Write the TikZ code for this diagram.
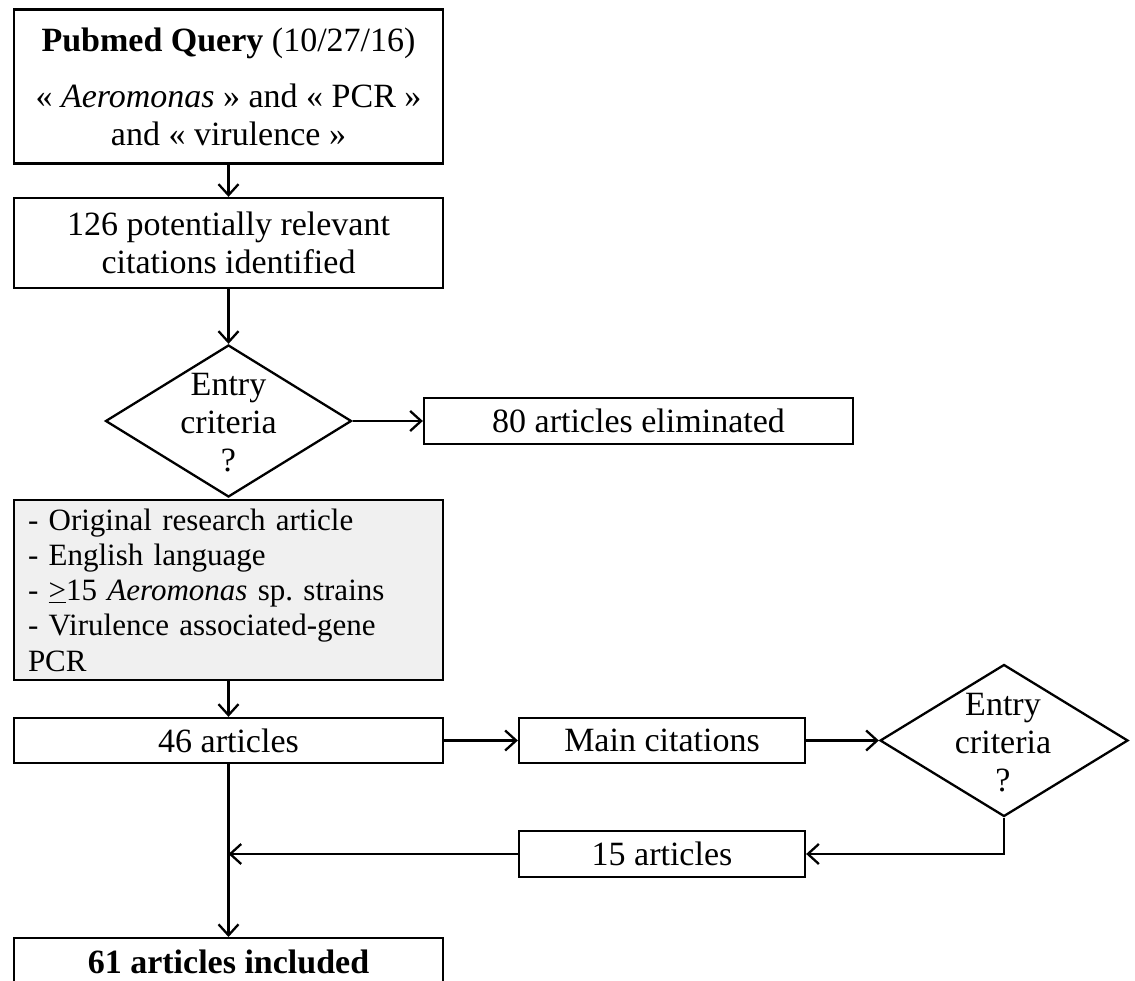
\documentclass[tikz,border=0pt]{standalone}
\usepackage{fontspec}
\setmainfont{Liberation Serif}
\frenchspacing
\usetikzlibrary{shapes.geometric,arrows.meta}
\begin{document}
\begin{tikzpicture}[x=1pt,y=-1pt,
  box/.style={draw, line width=2.3pt, minimum height=45pt, inner sep=0pt, font=\fontsize{34}{38}\selectfont, align=center},
  dia/.style={draw, diamond, line width=2.3pt, inner sep=0pt},
  lbl/.style={font=\fontsize{34}{38}\selectfont, align=center, inner sep=0pt},
  conn/.style={line width=2.3pt, -{Straight Barb[length=11pt,width=20pt,line width=2.3pt]}}
]
\useasboundingbox (0,0) rectangle (1135,981);
\clip (0,0) rectangle (1135,981);
\node[box, minimum width=429pt, minimum height=154pt] (q) at (228.5,86.5) {\textbf{Pubmed Query} (10/27/16)\\[18pt] « \textit{Aeromonas} » and « PCR »\\ and « virulence »};
\node[box, minimum width=429pt, minimum height=90pt] (c) at (228.5,243) {126 potentially relevant\\citations identified};
\node[dia, minimum width=246pt, minimum height=152pt] (d1) at (228.5,421) {};
\node[lbl] (d1t) at (228.5,423) {Entry\\criteria\\?};
\node[box, minimum width=429pt, minimum height=46pt] (e) at (638.5,421) {80 articles eliminated};
\node[box, fill=gray!12, minimum width=429pt, minimum height=180pt, text width=401pt, inner xsep=14pt, align=left, font=\fontsize{31}{35.3}\selectfont] (g) at (228.5,590) {- Original research article\\- English language\\- \underline{>}15 \textit{Aeromonas} sp. strains\\- Virulence associated-gene\\PCR};
\node[box, minimum width=429pt] (a46) at (228.5,740.5) {46 articles};
\node[box, minimum width=286pt] (mc) at (662,740.5) {Main citations};
\node[dia, minimum width=248pt, minimum height=152pt] (d2) at (1004,740.5) {};
\node[lbl] (d2t) at (1003,743) {Entry\\criteria\\?};
\node[box, minimum width=286pt, minimum height=46pt] (a15) at (662,854) {15 articles};
\node[box, minimum width=429pt, minimum height=70pt, anchor=north] (a61) at (228.5,937) {};
\node[lbl, font=\bfseries\fontsize{34}{38}\selectfont] (a61t) at (228.5,962) {61 articles included};
\coordinate (j) at (228.5,854);
\draw[conn] (q.south) -- (c.north);
\draw[conn] (c.south) -- (d1.north);
\draw[conn] (d1.east) -- (e.west);
\draw[conn] (g.south) -- (a46.north);
\draw[conn] (a46.east) -- (mc.west);
\draw[conn] (mc.east) -- (d2.west);
\draw[conn] (d2.south) |- (a15.east);
\draw[conn] (a15.west) -- (j);
\draw[conn] (a46.south) -- (a61.north);
\end{tikzpicture}
\end{document}
